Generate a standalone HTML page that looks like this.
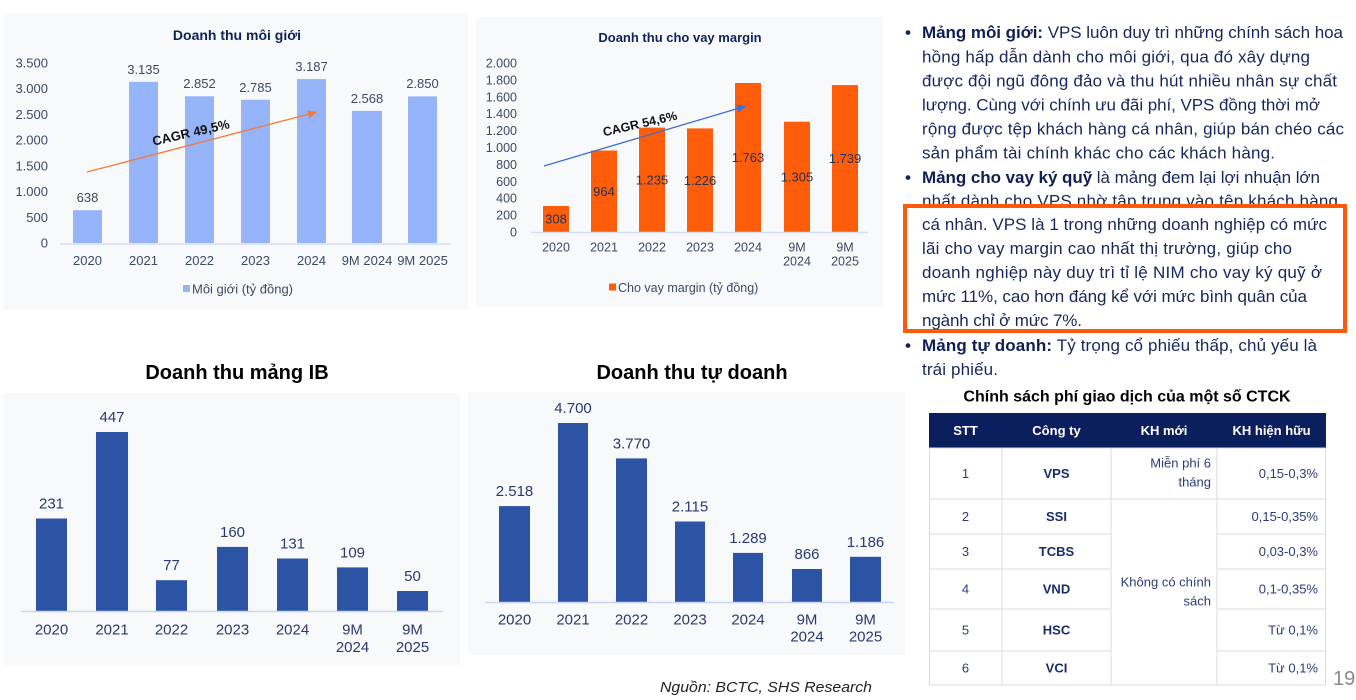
<!DOCTYPE html>
<html>
<head>
<meta charset="utf-8">
<style>
html,body{margin:0;padding:0;background:#ffffff;}
body{width:1356px;height:700px;overflow:hidden;position:relative;}
svg{position:absolute;left:0;top:0;}
text{font-family:"Liberation Sans","Noto Sans CJK SC",sans-serif;}
</style>
</head>
<body>
<svg width="1356" height="700" viewBox="0 0 1356 700" xmlns="http://www.w3.org/2000/svg">
  <!-- ===== Chart 1: Doanh thu môi giới ===== -->
  <rect x="3" y="13" width="465" height="297" fill="#f8f9fb"/>
  <text x="237" y="40" text-anchor="middle" font-size="14" font-weight="bold" fill="#0d2357">Doanh thu môi giới</text>
  <g font-size="13" fill="#3c4a64" text-anchor="end">
    <text x="48" y="247.5">0</text>
    <text x="48" y="221.8">500</text>
    <text x="48" y="196.1">1.000</text>
    <text x="48" y="170.4">1.500</text>
    <text x="48" y="144.6">2.000</text>
    <text x="48" y="118.9">2.500</text>
    <text x="48" y="93.2">3.000</text>
    <text x="48" y="67.5">3.500</text>
  </g>
  <g fill="#95b4fa">
    <rect x="73" y="210.2" width="29" height="32.8"/>
    <rect x="129" y="81.8" width="29" height="161.2"/>
    <rect x="185" y="96.3" width="29" height="146.7"/>
    <rect x="241" y="99.8" width="29" height="143.2"/>
    <rect x="297" y="79.1" width="29" height="163.9"/>
    <rect x="352" y="110.9" width="30" height="132.1"/>
    <rect x="408" y="96.4" width="29" height="146.6"/>
  </g>
  <line x1="60" y1="244" x2="450" y2="244" stroke="#d3def6" stroke-width="1.5"/>
  <g font-size="13" fill="#3c4a64" text-anchor="middle">
    <text x="87.5" y="202">638</text>
    <text x="143.5" y="74">3.135</text>
    <text x="199.5" y="88">2.852</text>
    <text x="255.5" y="92">2.785</text>
    <text x="311.5" y="71">3.187</text>
    <text x="367" y="103">2.568</text>
    <text x="422.5" y="88">2.850</text>
    <text x="87.5" y="265">2020</text>
    <text x="143.5" y="265">2021</text>
    <text x="199.5" y="265">2022</text>
    <text x="255.5" y="265">2023</text>
    <text x="311.5" y="265">2024</text>
    <text x="367" y="265">9M 2024</text>
    <text x="422.5" y="265">9M 2025</text>
  </g>
  <rect x="183" y="285" width="7" height="7" fill="#95b4fa"/>
  <text x="192" y="293.5" font-size="13" fill="#3c4a64">Môi giới (tỷ đồng)</text>
  <line x1="87" y1="172" x2="308.3" y2="114.3" stroke="#f5793b" stroke-width="1.3"/>
  <polygon points="317,112 309.3,118.2 307.3,110.4" fill="#f5793b"/>
  <text x="191" y="137" font-size="13" font-weight="bold" fill="#111" text-anchor="middle" transform="rotate(-13 191 133)">CAGR 49,5%</text>

  <!-- ===== Chart 2: Doanh thu cho vay margin ===== -->
  <rect x="476" y="17" width="407" height="290" fill="#f8f9fb"/>
  <text x="680" y="42" text-anchor="middle" font-size="13" font-weight="bold" fill="#0d2357">Doanh thu cho vay margin</text>
  <g font-size="12.5" fill="#3c4a64" text-anchor="end">
    <text x="517" y="236.5">0</text>
    <text x="517" y="219.6">200</text>
    <text x="517" y="202.7">400</text>
    <text x="517" y="185.8">600</text>
    <text x="517" y="168.9">800</text>
    <text x="517" y="152">1.000</text>
    <text x="517" y="135.1">1.200</text>
    <text x="517" y="118.2">1.400</text>
    <text x="517" y="101.3">1.600</text>
    <text x="517" y="84.4">1.800</text>
    <text x="517" y="67.5">2.000</text>
  </g>
  <g fill="#ff5d0a">
    <rect x="543" y="206" width="26" height="26"/>
    <rect x="591" y="150.5" width="26" height="81.5"/>
    <rect x="639" y="127.6" width="26" height="104.4"/>
    <rect x="687" y="128.4" width="26" height="103.6"/>
    <rect x="735" y="83" width="26" height="149"/>
    <rect x="784" y="121.7" width="26" height="110.3"/>
    <rect x="832" y="85.1" width="26" height="146.9"/>
  </g>
  <line x1="531" y1="232.5" x2="868" y2="232.5" stroke="#d3def6" stroke-width="1.5"/>
  <g font-size="13" fill="#26324f" text-anchor="middle">
    <text x="556" y="223.5">308</text>
    <text x="604" y="196">964</text>
    <text x="652" y="184.5">1.235</text>
    <text x="700" y="185">1.226</text>
    <text x="748" y="162">1.763</text>
    <text x="797" y="181.5">1.305</text>
    <text x="845" y="163">1.739</text>
  </g>
  <g font-size="12.5" fill="#3c4a64" text-anchor="middle">
    <text x="556" y="251.5">2020</text>
    <text x="604" y="251.5">2021</text>
    <text x="652" y="251.5">2022</text>
    <text x="700" y="251.5">2023</text>
    <text x="748" y="251.5">2024</text>
    <text x="797" y="251.5">9M</text>
    <text x="797" y="265.5">2024</text>
    <text x="845" y="251.5">9M</text>
    <text x="845" y="265.5">2025</text>
  </g>
  <rect x="609" y="283.5" width="7" height="7" fill="#ff5d0a"/>
  <text x="618" y="292" font-size="12.5" fill="#3c4a64">Cho vay margin (tỷ đồng)</text>
  <line x1="544" y1="166" x2="737.4" y2="108.6" stroke="#3b6fd6" stroke-width="1.3"/>
  <polygon points="746,106 738.5,112.4 736.3,104.8" fill="#3b6fd6"/>
  <text x="640" y="128" font-size="12.5" font-weight="bold" fill="#111" text-anchor="middle" transform="rotate(-13 640 124)">CAGR 54,6%</text>

  <!-- ===== Chart 3: Doanh thu mảng IB ===== -->
  <text x="237" y="379" text-anchor="middle" font-size="20" font-weight="bold" fill="#000">Doanh thu mảng IB</text>
  <rect x="3" y="393" width="457" height="272" fill="#f8f9fb"/>
  <g fill="#2d53a4">
    <rect x="36" y="518.5" width="31" height="92.5"/>
    <rect x="96" y="432" width="32" height="179"/>
    <rect x="156" y="580.2" width="31" height="30.8"/>
    <rect x="217" y="546.9" width="31" height="64.1"/>
    <rect x="277" y="558.5" width="31" height="52.5"/>
    <rect x="337" y="567.4" width="31" height="43.6"/>
    <rect x="397" y="591" width="31" height="20"/>
  </g>
  <line x1="21" y1="611.5" x2="443" y2="611.5" stroke="#c9d6f2" stroke-width="1.5"/>
  <g font-size="15" fill="#2a3a6e" text-anchor="middle">
    <text x="51.5" y="508.5">231</text>
    <text x="112" y="422">447</text>
    <text x="171.5" y="570">77</text>
    <text x="232.5" y="537">160</text>
    <text x="292.5" y="548.5">131</text>
    <text x="352.5" y="557.5">109</text>
    <text x="412.5" y="581">50</text>
    <text x="51.5" y="634.5">2020</text>
    <text x="112" y="634.5">2021</text>
    <text x="171.5" y="634.5">2022</text>
    <text x="232.5" y="634.5">2023</text>
    <text x="292.5" y="634.5">2024</text>
    <text x="352.5" y="634.5">9M</text>
    <text x="352.5" y="652">2024</text>
    <text x="412.5" y="634.5">9M</text>
    <text x="412.5" y="652">2025</text>
  </g>

  <!-- ===== Chart 4: Doanh thu tự doanh ===== -->
  <text x="692" y="379" text-anchor="middle" font-size="20" font-weight="bold" fill="#000">Doanh thu tự doanh</text>
  <rect x="468" y="392" width="437" height="263" fill="#f8f9fb"/>
  <g fill="#2d53a4">
    <rect x="499" y="506.1" width="31" height="95.9"/>
    <rect x="558" y="423" width="30" height="179"/>
    <rect x="616" y="458.4" width="31" height="143.6"/>
    <rect x="675" y="521.5" width="30" height="80.5"/>
    <rect x="733" y="552.9" width="30" height="49.1"/>
    <rect x="792" y="569" width="30" height="33"/>
    <rect x="850" y="556.8" width="31" height="45.2"/>
  </g>
  <line x1="485" y1="602.5" x2="894" y2="602.5" stroke="#c9d6f2" stroke-width="1.5"/>
  <g font-size="15" fill="#2a3a6e" text-anchor="middle">
    <text x="514.5" y="496">2.518</text>
    <text x="573" y="413">4.700</text>
    <text x="631.5" y="448.5">3.770</text>
    <text x="690" y="511.5">2.115</text>
    <text x="748" y="543">1.289</text>
    <text x="807" y="559">866</text>
    <text x="865.5" y="547">1.186</text>
    <text x="514.5" y="624.5">2020</text>
    <text x="573" y="624.5">2021</text>
    <text x="631.5" y="624.5">2022</text>
    <text x="690" y="624.5">2023</text>
    <text x="748" y="624.5">2024</text>
    <text x="807" y="624.5">9M</text>
    <text x="807" y="641.5">2024</text>
    <text x="865.5" y="624.5">9M</text>
    <text x="865.5" y="641.5">2025</text>
  </g>
  <text x="660" y="692" font-size="15" font-style="italic" fill="#222" textLength="212" lengthAdjust="spacingAndGlyphs">Nguồn: BCTC, SHS Research</text>

  <!-- ===== Right text ===== -->
  <g font-size="17" fill="#17275c">
    <text x="908" y="38" text-anchor="middle" font-weight="bold">•</text>
    <text x="908" y="183" text-anchor="middle" font-weight="bold">•</text>
    <text x="908" y="351" text-anchor="middle" font-weight="bold">•</text>
    <text x="922" y="38" textLength="421" lengthAdjust="spacing"><tspan font-weight="bold" fill="#0f1f55">Mảng môi giới:</tspan> VPS luôn duy trì những chính sách hoa</text>
    <text x="922" y="62.5" textLength="388" lengthAdjust="spacing">hồng hấp dẫn dành cho môi giới, qua đó xây dựng</text>
    <text x="922" y="86.5" textLength="415" lengthAdjust="spacing">được đội ngũ đông đảo và thu hút nhiều nhân sự chất</text>
    <text x="922" y="110.5" textLength="398" lengthAdjust="spacing">lượng. Cùng với chính ưu đãi phí, VPS đồng thời mở</text>
    <text x="922" y="134.5" textLength="422" lengthAdjust="spacing">rộng được tệp khách hàng cá nhân, giúp bán chéo các</text>
    <text x="922" y="158.5" textLength="353" lengthAdjust="spacing">sản phẩm tài chính khác cho các khách hàng.</text>
    <text x="922" y="183" textLength="398" lengthAdjust="spacing"><tspan font-weight="bold" fill="#0f1f55">Mảng cho vay ký quỹ</tspan> là mảng đem lại lợi nhuận lớn</text>
    <text x="922" y="206.5" textLength="416" lengthAdjust="spacing">nhất dành cho VPS nhờ tập trung vào tệp khách hàng</text>
  </g>
  <rect x="905" y="206" width="440" height="125" fill="#ffffff" stroke="#ff5a0a" stroke-width="4"/>
  <g font-size="17" fill="#17275c">
    <text x="922" y="230" textLength="405" lengthAdjust="spacing">cá nhân. VPS là 1 trong những doanh nghiệp có mức</text>
    <text x="922" y="254" textLength="370" lengthAdjust="spacing">lãi cho vay margin cao nhất thị trường, giúp cho</text>
    <text x="922" y="278" textLength="400" lengthAdjust="spacing">doanh nghiệp này duy trì tỉ lệ NIM cho vay ký quỹ ở</text>
    <text x="922" y="302" textLength="385" lengthAdjust="spacing">mức 11%, cao hơn đáng kể với mức bình quân của</text>
    <text x="922" y="326" textLength="160" lengthAdjust="spacing">ngành chỉ ở mức 7%.</text>
    <text x="922" y="351" textLength="395" lengthAdjust="spacing"><tspan font-weight="bold" fill="#0f1f55">Mảng tự doanh:</tspan> Tỷ trọng cổ phiếu thấp, chủ yếu là</text>
    <text x="922" y="375" textLength="76" lengthAdjust="spacing">trái phiếu.</text>
  </g>

  <!-- ===== Table ===== -->
  <text x="1127" y="401.5" text-anchor="middle" font-size="16" font-weight="bold" fill="#000">Chính sách phí giao dịch của một số CTCK</text>
  <rect x="929" y="413" width="397" height="35" fill="#0b1f5e"/>
  <g font-size="13" font-weight="bold" fill="#ffffff" text-anchor="middle">
    <text x="965.5" y="435">STT</text>
    <text x="1056.5" y="435">Công ty</text>
    <text x="1164" y="435">KH mới</text>
    <text x="1271.5" y="435">KH hiện hữu</text>
  </g>
  <g stroke="#d6dbe3" stroke-width="1" fill="none">
    <rect x="929.5" y="448" width="396" height="237"/>
    <line x1="1002" y1="448" x2="1002" y2="685"/>
    <line x1="1111" y1="448" x2="1111" y2="685"/>
    <line x1="1217" y1="448" x2="1217" y2="685"/>
    <line x1="929" y1="499" x2="1326" y2="499"/>
    <line x1="929" y1="534" x2="1111" y2="534"/>
    <line x1="1217" y1="534" x2="1326" y2="534"/>
    <line x1="929" y1="569" x2="1111" y2="569"/>
    <line x1="1217" y1="569" x2="1326" y2="569"/>
    <line x1="929" y1="609" x2="1111" y2="609"/>
    <line x1="1217" y1="609" x2="1326" y2="609"/>
    <line x1="929" y1="651" x2="1111" y2="651"/>
    <line x1="1217" y1="651" x2="1326" y2="651"/>
  </g>
  <g font-size="13" fill="#2a3c78" text-anchor="middle">
    <text x="965.5" y="478">1</text>
    <text x="965.5" y="521">2</text>
    <text x="965.5" y="556">3</text>
    <text x="965.5" y="593.5">4</text>
    <text x="965.5" y="634.5">5</text>
    <text x="965.5" y="672.5">6</text>
  </g>
  <g font-size="13" font-weight="bold" fill="#1a2d6b" text-anchor="middle">
    <text x="1056.5" y="478">VPS</text>
    <text x="1056.5" y="521">SSI</text>
    <text x="1056.5" y="556">TCBS</text>
    <text x="1056.5" y="593.5">VND</text>
    <text x="1056.5" y="634.5">HSC</text>
    <text x="1056.5" y="672.5">VCI</text>
  </g>
  <g font-size="13" fill="#2a3c78" text-anchor="end">
    <text x="1211" y="467.5">Miễn phí 6</text>
    <text x="1211" y="486.5">tháng</text>
    <text x="1211" y="586.5">Không có chính</text>
    <text x="1211" y="605.5">sách</text>
    <text x="1318" y="478">0,15-0,3%</text>
    <text x="1318" y="521">0,15-0,35%</text>
    <text x="1318" y="556">0,03-0,3%</text>
    <text x="1318" y="593.5">0,1-0,35%</text>
    <text x="1318" y="634.5">Từ 0,1%</text>
    <text x="1318" y="672.5">Từ 0,1%</text>
  </g>
  <text x="1333" y="685" font-size="20" fill="#8a8a8a">19</text>
</svg>
</body>
</html>
